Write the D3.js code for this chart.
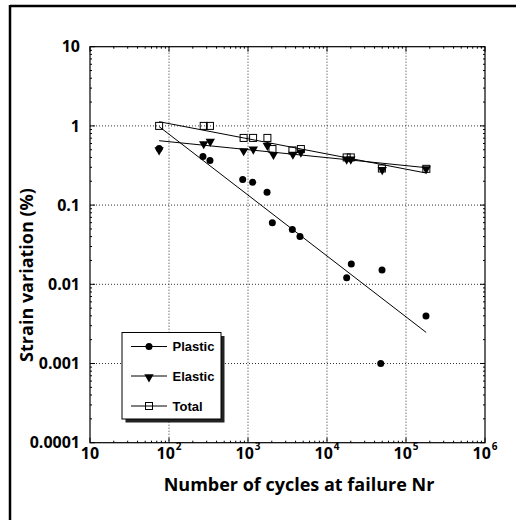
<!DOCTYPE html>
<html>
<head>
  <meta charset="utf-8">
  <script src="https://d3js.org/d3.v7.min.js"></script>
  <style>
    body { margin: 0; background: #fff; }
    .tick-label { font-family: "Open Sans", sans-serif; font-weight: bold; font-size: 16px; }
    .axis-title { font-family: "Open Sans", sans-serif; font-weight: bold; font-size: 18px; }
    .legend-text { font-family: "Liberation Sans", Arial, sans-serif; font-weight: bold; font-size: 13px; }
  </style>
</head>
<body>
<script>
// data (N cycles, strain %)
var plasticN = [75, 269, 330, 857, 1146, 1742, 2032, 3640, 4550, 17740, 20300, 49700, 47900, 179000];
var plasticS = [0.517, 0.41, 0.365, 0.211, 0.194, 0.145, 0.0598, 0.0492, 0.0402, 0.0121, 0.0181, 0.0152, 0.001, 0.00398];

var elasticN = [75, 275, 333, 881, 1167, 1760, 2100, 3700, 4670, 17740, 20000, 50000, 180000];
var elasticS = [0.51, 0.61, 0.653, 0.497, 0.522, 0.58, 0.447, 0.45, 0.479, 0.39, 0.39, 0.288, 0.295];

var totalN = [75, 275, 330, 880, 1160, 1760, 2040, 3650, 4670, 17740, 20000, 49500, 181000];
var totalS = [1.0, 1.0, 1.0, 0.705, 0.705, 0.705, 0.51, 0.49, 0.51, 0.40, 0.40, 0.29, 0.287];

// fitted power-law lines: endpoints [N, strain]
var fitPlastic = [[75, 0.98], [180000, 0.00247]];
var fitElastic = [[75, 0.65], [180000, 0.297]];
var fitTotal = [[75, 1.13], [180000, 0.254]];

var xTicks = [10, 100, 1000, 10000, 100000, 1000000];
var yTicks = [0.0001, 0.001, 0.01, 0.1, 1, 10];
var yTickLabels = ["0.0001", "0.001", "0.01", "0.1", "1", "10"];
var legendNames = ["Plastic", "Elastic", "Total"];

var W = 516, H = 520;
var svg = d3.select("body").append("svg").attr("width", W).attr("height", H);

// outer frame (left + top only)
svg.append("line").attr("x1", 10).attr("y1", 6).attr("x2", 516).attr("y2", 6)
   .attr("stroke", "#000").attr("stroke-width", 2.5);
svg.append("line").attr("x1", 10).attr("y1", 5).attr("x2", 10).attr("y2", 520)
   .attr("stroke", "#000").attr("stroke-width", 2.5);

var pLeft = 90, pRight = 485, pTop = 46.7, pBottom = 442.7;

var x = d3.scaleLog().domain([10, 1e6]).range([pLeft, pRight]);
var y = d3.scaleLog().domain([1e-4, 10]).range([pBottom, pTop]);

// grid
var g = svg.append("g");
g.selectAll(".gx").data(xTicks.slice(1, -1)).enter().append("line")
  .attr("x1", function (d) { return x(d); }).attr("x2", function (d) { return x(d); })
  .attr("y1", pTop).attr("y2", pBottom)
  .attr("stroke", "#333").attr("stroke-width", 1).attr("stroke-dasharray", "1,2");
g.selectAll(".gy").data(yTicks.slice(1, -1)).enter().append("line")
  .attr("y1", function (d) { return y(d); }).attr("y2", function (d) { return y(d); })
  .attr("x1", pLeft).attr("x2", pRight)
  .attr("stroke", "#333").attr("stroke-width", 1).attr("stroke-dasharray", "1,2");

// minor + major ticks on all sides, pointing inward
var minorX = [], minorY = [];
for (var e = 1; e < 6; e++) for (var m = 2; m < 10; m++) minorX.push(m * Math.pow(10, e));
for (var e2 = -4; e2 < 1; e2++) for (var m2 = 2; m2 < 10; m2++) minorY.push(m2 * Math.pow(10, e2));

var tk = svg.append("g").attr("stroke", "#000").attr("stroke-width", 1);
minorX.forEach(function (d) {
  tk.append("line").attr("x1", x(d)).attr("x2", x(d)).attr("y1", pBottom).attr("y2", pBottom - 2);
  tk.append("line").attr("x1", x(d)).attr("x2", x(d)).attr("y1", pTop).attr("y2", pTop + 2);
});
minorY.forEach(function (d) {
  tk.append("line").attr("y1", y(d)).attr("y2", y(d)).attr("x1", pLeft).attr("x2", pLeft + 2);
  tk.append("line").attr("y1", y(d)).attr("y2", y(d)).attr("x1", pRight).attr("x2", pRight - 2);
});
xTicks.forEach(function (d) {
  tk.append("line").attr("x1", x(d)).attr("x2", x(d)).attr("y1", pBottom).attr("y2", pBottom - 5);
  tk.append("line").attr("x1", x(d)).attr("x2", x(d)).attr("y1", pTop).attr("y2", pTop + 5);
});
yTicks.forEach(function (d) {
  tk.append("line").attr("y1", y(d)).attr("y2", y(d)).attr("x1", pLeft).attr("x2", pLeft + 5);
  tk.append("line").attr("y1", y(d)).attr("y2", y(d)).attr("x1", pRight).attr("x2", pRight - 5);
});

// plot frame
svg.append("rect").attr("x", pLeft).attr("y", pTop)
  .attr("width", pRight - pLeft).attr("height", pBottom - pTop)
  .attr("fill", "none").attr("stroke", "#000").attr("stroke-width", 1.2);

// y tick labels
svg.selectAll(".ylab").data(yTicks).enter().append("text")
  .attr("class", "tick-label")
  .attr("x", 80).attr("y", function (d) { return y(d); })
  .attr("dy", "0.36em").attr("text-anchor", "end")
  .text(function (d, i) { return yTickLabels[i]; });

// x tick labels with superscript exponents
xTicks.forEach(function (d, i) {
  var t = svg.append("text").attr("class", "tick-label")
    .attr("x", x(d)).attr("y", 459).attr("text-anchor", "middle");
  t.append("tspan").text("10");
  if (i > 0) {
    t.append("tspan").attr("dy", -9).attr("dx", 1).style("font-size", "10px")
      .text(String(Math.round(Math.log10(d))));
  }
});

// axis titles
svg.append("text").attr("class", "axis-title")
  .attr("x", 299).attr("y", 491).attr("text-anchor", "middle")
  .text("Number of cycles at failure Nr");
svg.append("text").attr("class", "axis-title")
  .attr("transform", "translate(33,275) rotate(-90)")
  .attr("text-anchor", "middle")
  .text("Strain variation (%)");

// fitted lines
var line = d3.line().x(function (d) { return x(d[0]); }).y(function (d) { return y(d[1]); });
[fitPlastic, fitElastic, fitTotal].forEach(function (f) {
  svg.append("path").attr("d", line(f)).attr("fill", "none")
    .attr("stroke", "#000").attr("stroke-width", 1);
});

// markers
var tri = d3.symbol().type(d3.symbolTriangle).size(38)();
function drawCircle(sel, cx, cy) {
  sel.append("circle").attr("cx", cx).attr("cy", cy).attr("r", 3.5).attr("fill", "#000");
}
function drawTri(sel, cx, cy) {
  sel.append("path").attr("d", tri)
    .attr("transform", "translate(" + cx + "," + cy + ") rotate(180)").attr("fill", "#000");
}
function drawSquare(sel, cx, cy) {
  sel.append("rect").attr("x", cx - 3.5).attr("y", cy - 3.5).attr("width", 7).attr("height", 7)
    .attr("fill", "none").attr("stroke", "#000").attr("stroke-width", 1);
}

var mk = svg.append("g");
totalN.forEach(function (n, i) { drawSquare(mk, x(n), y(totalS[i])); });
elasticN.forEach(function (n, i) { drawTri(mk, x(n), y(elasticS[i]) + 1); });
plasticN.forEach(function (n, i) { drawCircle(mk, x(n), y(plasticS[i])); });

// legend
var lg = svg.append("g");
lg.append("rect").attr("x", 125.5).attr("y", 336).attr("width", 99).attr("height", 86.5).attr("fill", "#222");
lg.append("rect").attr("x", 122).attr("y", 332.5).attr("width", 99).attr("height", 86.5)
  .attr("fill", "#fff").attr("stroke", "#000").attr("stroke-width", 1);
var ly = [346.5, 376, 406];
var drawers = [drawCircle, drawTri, drawSquare];
legendNames.forEach(function (name, i) {
  lg.append("line").attr("x1", 131).attr("x2", 167).attr("y1", ly[i]).attr("y2", ly[i])
    .attr("stroke", "#000").attr("stroke-width", 1);
  drawers[i](lg, 149, ly[i] + (i === 1 ? 1 : 0));
  lg.append("text").attr("class", "legend-text").attr("x", 172.5).attr("y", ly[i])
    .attr("dy", "0.36em").text(name);
});
</script>
</body>
</html>
